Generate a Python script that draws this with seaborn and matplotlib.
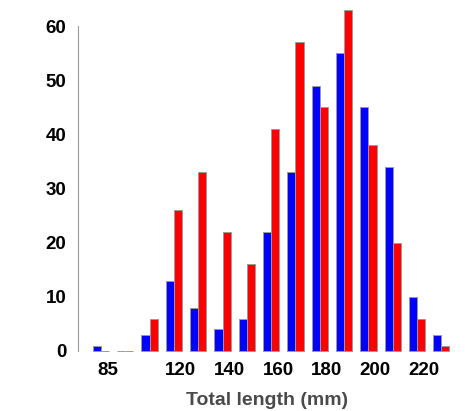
import pandas as pd
import matplotlib
matplotlib.use("Agg")
import matplotlib.pyplot as plt
import seaborn as sns

# length bins (mm), one group per bin
bins = ["90", "100", "110", "120", "130", "140", "150", "160",
        "170", "180", "190", "200", "210", "220", "230"]
blue_counts = [1, 0, 3, 13, 8, 4, 6, 22, 33, 49, 55, 45, 34, 10, 3]
red_counts = [0, 0, 6, 26, 33, 22, 16, 41, 57, 45, 63, 38, 20, 6, 1]
tick_labels = ["85", "", "", "120", "", "140", "", "160", "", "180", "", "200", "", "220", ""]
y_ticks = [0, 10, 20, 30, 40, 50, 60]

df = pd.DataFrame({
    "bin": bins * 2,
    "count": blue_counts + red_counts,
    "group": ["blue"] * len(bins) + ["red"] * len(bins),
})

sns.set_style("white")
plt.rcParams["font.family"] = ["Liberation Sans", "DejaVu Sans"]

fig = plt.figure(figsize=(4.72, 4.11), dpi=100)
ax = fig.add_axes([0.165, 0.146, 0.801, 0.843])

sns.barplot(data=df, x="bin", y="count", hue="group", order=bins,
            palette=["#0000ff", "#ff0000"], width=2 / 3, saturation=1,
            edgecolor="#9a9a9a", linewidth=0.7, legend=False, ax=ax)

# let the zero-height bars show their border line at the baseline
for p in ax.patches:
    p.set_clip_on(False)

ax.set_xlim(-0.95, 14.6)
ax.set_ylim(0, 64)

ax.set_xticks([i + 0.28 for i in range(len(bins))])
ax.set_xticklabels(tick_labels, fontsize=13.5, fontweight="bold", color="black")
ax.tick_params(axis="x", length=0, pad=8)

ax.set_yticks(y_ticks)
ax.set_yticklabels([str(v) for v in y_ticks], fontsize=13.5, fontweight="bold", color="black")
ax.tick_params(axis="y", length=4.3, width=0.8, color="#999999", pad=4)

for s in ["top", "right", "bottom"]:
    ax.spines[s].set_visible(False)
ax.spines["left"].set_bounds(0, 60)
ax.spines["left"].set_color("#999999")
ax.spines["left"].set_linewidth(0.8)

ax.set_xlabel("Total length (mm)", fontsize=14, fontweight="bold", color="#4a4a4a", labelpad=9)
ax.set_ylabel("")

fig.savefig("out.png", dpi=100)
